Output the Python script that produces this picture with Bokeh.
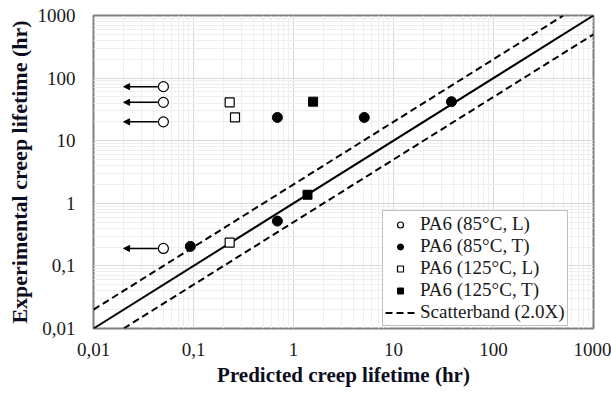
from bokeh.plotting import figure
from bokeh.models import (FixedTicker, CustomJSTickFormatter, Arrow, NormalHead,
                          Legend, LegendItem)
from bokeh.embed import file_html
from bokeh.resources import INLINE

# ---- data ----
pa6_85_L_x = [0.05, 0.05, 0.05, 0.05]
pa6_85_L_y = [73, 41, 20, 0.19]

pa6_85_T_x = [0.093, 0.69, 0.69, 5.1, 38]
pa6_85_T_y = [0.205, 0.52, 23.5, 23.5, 42]

pa6_125_L_x = [0.23, 0.26, 0.23]
pa6_125_L_y = [41, 23.5, 0.235]

pa6_125_T_x = [1.57, 1.38]
pa6_125_T_y = [42, 1.37]

# run-out arrows (from the open circles towards lower predicted lifetimes)
arrow_y = [73, 41, 20, 0.19]
arrow_x_start = [0.044, 0.044, 0.044, 0.044]
arrow_x_end = [0.02, 0.02, 0.02, 0.02]

# 1:1 line and scatterband (factor 2.0)
diag_x = [0.01, 1000]
diag_y = [0.01, 1000]
band_hi_x = [0.01, 500]
band_hi_y = [0.02, 1000]
band_lo_x = [0.02, 1000]
band_lo_y = [0.01, 500]

tick_values = [0.01, 0.1, 1, 10, 100, 1000]
minor_values = [k * 10.0 ** d for d in range(-2, 3) for k in range(2, 10)]

# ---- figure ----
p = figure(width=611, height=400, x_axis_type="log", y_axis_type="log",
           x_range=(0.01, 1000), y_range=(0.01, 1000),
           output_backend="svg", toolbar_location=None,
           min_border_left=93, min_border_right=18,
           min_border_top=15, min_border_bottom=72)

p.background_fill_color = "white"
p.border_fill_color = "white"
p.outline_line_color = "#7f7f7f"
p.outline_line_width = 2

fmt = CustomJSTickFormatter(code="return tick.toString().replace('.', ',');")
for ax in (p.xaxis[0], p.yaxis[0]):
    ax.ticker = FixedTicker(ticks=tick_values, minor_ticks=minor_values)
    ax.formatter = fmt
    ax.axis_line_color = None
    ax.major_tick_line_color = None
    ax.minor_tick_line_color = None
    ax.major_tick_out = 0
    ax.minor_tick_out = 0
    ax.major_label_text_font = "Liberation Serif"
    ax.major_label_text_font_size = "19px"
    ax.major_label_text_color = "#1a1a1a"
    ax.axis_label_text_font = "Liberation Serif"
    ax.axis_label_text_font_style = "bold"
    ax.axis_label_text_color = "#0d0d22"

p.xaxis.axis_label = "Predicted creep lifetime (hr)"
p.yaxis.axis_label = "Experimental creep lifetime (hr)"
p.xaxis.axis_label_text_font_size = "21px"
p.yaxis.axis_label_text_font_size = "22px"
p.xaxis.major_label_standoff = 14
p.yaxis.major_label_standoff = 18
p.xaxis.axis_label_standoff = 4
p.yaxis.axis_label_standoff = 3

for g in (p.xgrid[0], p.ygrid[0]):
    g.grid_line_color = "#d9d9d9"
    g.grid_line_width = 1
    g.minor_grid_line_color = "#eeeeee"
    g.minor_grid_line_width = 1

# ---- lines ----
p.line(diag_x, diag_y, line_color="black", line_width=2)
band = p.line(band_hi_x, band_hi_y, line_color="black", line_width=2, line_dash="7 4")
p.line(band_lo_x, band_lo_y, line_color="black", line_width=2, line_dash="7 4")

# ---- arrows ----
for xs, xe, yy in zip(arrow_x_start, arrow_x_end, arrow_y):
    p.add_layout(Arrow(end=NormalHead(size=6, fill_color="black", line_color="black"),
                       x_start=xs, y_start=yy, x_end=xe, y_end=yy,
                       line_color="black", line_width=1.5))

# ---- markers ----
r1 = p.scatter(pa6_85_L_x, pa6_85_L_y, marker="circle", size=10,
               fill_color="white", line_color="black", line_width=1.2)
r2 = p.scatter(pa6_85_T_x, pa6_85_T_y, marker="circle", size=10,
               fill_color="black", line_color="black")
r3 = p.scatter(pa6_125_L_x, pa6_125_L_y, marker="square", size=9,
               fill_color="white", line_color="black", line_width=1.2)
r4 = p.scatter(pa6_125_T_x, pa6_125_T_y, marker="square", size=9,
               fill_color="black", line_color="black")

legend = Legend(items=[
    LegendItem(label="PA6 (85°C, L)", renderers=[r1]),
    LegendItem(label="PA6 (85°C, T)", renderers=[r2]),
    LegendItem(label="PA6 (125°C, L)", renderers=[r3]),
    LegendItem(label="PA6 (125°C, T)", renderers=[r4]),
    LegendItem(label="Scatterband (2.0X)", renderers=[band]),
], location=(289, 2))
legend.label_text_font = "Liberation Serif"
legend.label_text_font_size = "19px"
legend.label_text_color = "#1a1a1a"
legend.glyph_width = 30
legend.glyph_height = 15
legend.label_height = 20
legend.label_standoff = 5
legend.spacing = 0
legend.padding = 2
legend.margin = 0
legend.border_line_color = "#7f7f7f"
legend.border_line_width = 1.5
legend.background_fill_color = "white"
legend.background_fill_alpha = 1
p.add_layout(legend, "center")

open("out.html", "w").write(file_html(p, INLINE))
